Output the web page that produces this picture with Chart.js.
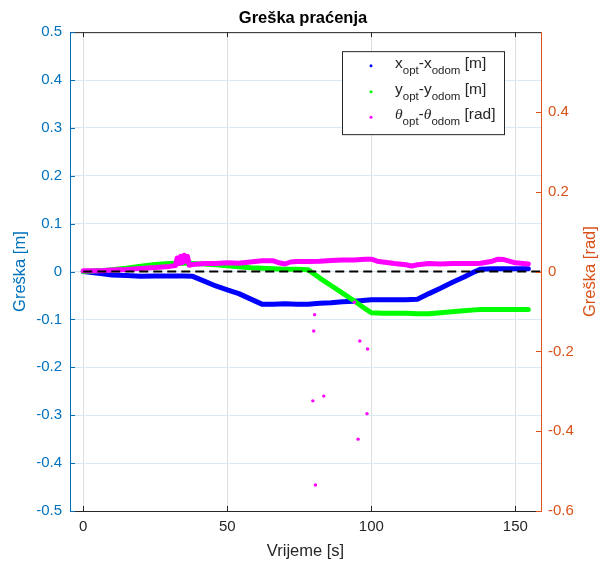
<!DOCTYPE html>
<html>
<head>
<meta charset="utf-8">
<script src="https://cdn.jsdelivr.net/npm/chart.js@4.4.1/dist/chart.umd.min.js"></script>
<style>
  html, body { margin: 0; padding: 0; background: #fff; }
</style>
</head>
<body>
<canvas id="errChart" width="606" height="565"></canvas>
<script>
const chartTitle = 'Greška praćenja';
const xLabel = 'Vrijeme [s]';
const yLabelLeft = 'Greška [m]';
const yLabelRight = 'Greška [rad]';

// time axis for the x / y position errors [s]
const timeXY = [0, 3, 6, 10, 15, 20, 25, 30, 35, 38, 42, 46, 50, 54, 58, 62, 66, 70, 74, 78,
    82, 86, 90, 94, 98, 100, 104, 108, 112, 116, 120, 124, 128, 132, 136, 138, 142, 146, 150, 154.5];
// x_opt - x_odom [m]
const xErr = [0.000, -0.002, -0.004, -0.007, -0.008, -0.010, -0.009, -0.009, -0.009, -0.010,
    -0.020, -0.030, -0.038, -0.046, -0.057, -0.068, -0.068, -0.067, -0.068, -0.068,
    -0.066, -0.065, -0.063, -0.062, -0.060, -0.059, -0.059, -0.059, -0.059, -0.058,
    -0.046, -0.035, -0.023, -0.012, 0.000, 0.005, 0.006, 0.006, 0.006, 0.006];
// y_opt - y_odom [m]
const yErr = [0.000, 0.001, 0.002, 0.004, 0.007, 0.011, 0.015, 0.017, 0.018, 0.017,
    0.016, 0.014, 0.012, 0.010, 0.008, 0.007, 0.006, 0.005, 0.005, 0.004,
    -0.013, -0.029, -0.045, -0.061, -0.078, -0.086, -0.087, -0.087, -0.087, -0.088,
    -0.088, -0.086, -0.084, -0.082, -0.080, -0.079, -0.079, -0.079, -0.079, -0.079];

// theta_opt - theta_odom [rad]
const timeTheta = [0, 3, 6, 10, 15, 20, 25, 30, 32, 32.6, 33.2, 33.8, 34.4, 35, 35.6, 36.2, 36.8, 38,
    42, 46, 50, 54, 58, 62, 66, 68, 70, 72, 74, 78, 82, 86, 90, 94, 98, 100, 102, 104, 108,
    112, 114, 116, 120, 124, 128, 132, 136, 138, 142, 144, 146, 150, 154.5];
const thetaErr = [0.002, 0.002, 0.002, 0.004, 0.005, 0.008, 0.010, 0.013, 0.015, 0.034, 0.020, 0.038,
    0.022, 0.041, 0.026, 0.038, 0.016, 0.018,
    0.020, 0.020, 0.022, 0.021, 0.024, 0.027, 0.027, 0.022, 0.019, 0.024, 0.025, 0.025, 0.026,
    0.028, 0.029, 0.029, 0.031, 0.031, 0.026, 0.024, 0.020,
    0.017, 0.014, 0.017, 0.020, 0.019, 0.020, 0.020, 0.020, 0.021, 0.026, 0.031, 0.030, 0.022, 0.019];

// isolated theta samples far from the main band
const outlierTime = [80.3, 80.0, 96.0, 98.7, 83.5, 79.7, 98.5, 95.4, 80.6, 94.1, 94.6];
const outlierTheta = [-0.108, -0.149, -0.174, -0.194, -0.312, -0.324, -0.356, -0.420, -0.535, -0.077, -0.605];

const xTicks = [0, 50, 100, 150];
const yTicksLeft = [-0.5, -0.4, -0.3, -0.2, -0.1, 0, 0.1, 0.2, 0.3, 0.4, 0.5];
const yTicksRight = [-0.6, -0.4, -0.2, 0, 0.2, 0.4];

const BLUE_AX = '#0072bd';
const ORANGE_AX = '#d95319';
const DARK = '#262626';

Chart.defaults.font.family = "'Liberation Sans', Arial, Helvetica, sans-serif";

const toPoints = (ts, vs) => ts.map((t, i) => ({ x: t, y: vs[i] }));
const fmt = (v) => String(Number(v.toFixed(2)));

const legendItems = [
    { color: '#0000ff', parts: [['x', 'n'], ['opt', 's'], ['-x', 'n'], ['odom', 's'], [' [m]', 'n']] },
    { color: '#00ff00', parts: [['y', 'n'], ['opt', 's'], ['-y', 'n'], ['odom', 's'], [' [m]', 'n']] },
    { color: '#ff00ff', parts: [['θ', 'g'], ['opt', 's'], ['-', 'n'], ['θ', 'g'], ['odom', 's'], [' [rad]', 'n']] },
];

const matlabDecor = {
    id: 'matlabDecor',
    afterDraw(chart) {
        const ctx = chart.ctx;
        const a = chart.chartArea;
        const sx = chart.scales.x;
        const yl = chart.scales.y;
        const yr = chart.scales.yR;
        ctx.save();

        // top border of the box
        ctx.strokeStyle = DARK;
        ctx.lineWidth = 1;
        ctx.beginPath();
        ctx.moveTo(a.left, a.top + 0.5);
        ctx.lineTo(a.right, a.top + 0.5);
        ctx.stroke();

        // inward tick marks
        const tl = 5;
        ctx.beginPath();
        sx.ticks.forEach((t) => {
            const px = Math.round(sx.getPixelForValue(t.value)) + 0.5;
            ctx.moveTo(px, a.bottom);
            ctx.lineTo(px, a.bottom - tl);
            ctx.moveTo(px, a.top);
            ctx.lineTo(px, a.top + tl);
        });
        ctx.stroke();
        ctx.strokeStyle = BLUE_AX;
        ctx.beginPath();
        yl.ticks.forEach((t) => {
            const py = Math.round(yl.getPixelForValue(t.value)) + 0.5;
            ctx.moveTo(a.left, py);
            ctx.lineTo(a.left + tl, py);
        });
        ctx.stroke();
        ctx.strokeStyle = ORANGE_AX;
        ctx.beginPath();
        yr.ticks.forEach((t) => {
            const py = Math.round(yr.getPixelForValue(t.value)) + 0.5;
            ctx.moveTo(a.right, py);
            ctx.lineTo(a.right - tl, py);
        });
        ctx.stroke();

        // right axis title, reading bottom to top like the left one
        ctx.fillStyle = ORANGE_AX;
        ctx.font = "16.5px 'Liberation Sans', Arial, sans-serif";
        ctx.textAlign = 'center';
        ctx.textBaseline = 'middle';
        ctx.translate(590, (a.top + a.bottom) / 2);
        ctx.rotate(-Math.PI / 2);
        ctx.fillText(yLabelRight, 0, 0);
        ctx.setTransform(1, 0, 0, 1, 0, 0);

        // legend box
        const bx = a.right - 199, by = a.top + 19, bw = 162, bh = 83;
        ctx.fillStyle = '#fff';
        ctx.fillRect(bx, by, bw, bh);
        ctx.strokeStyle = DARK;
        ctx.strokeRect(bx + 0.5, by + 0.5, bw, bh);
        const fonts = {
            n: "15.5px 'Liberation Sans', Arial, sans-serif",
            s: "11.5px 'Liberation Sans', Arial, sans-serif",
            g: "italic 15.5px 'Liberation Serif', 'Times New Roman', serif",
        };
        const rowBase = [by + 16.5, by + 42.5, by + 68];
        ctx.textAlign = 'left';
        ctx.textBaseline = 'alphabetic';
        legendItems.forEach((item, i) => {
            const base = rowBase[i];
            ctx.fillStyle = item.color;
            ctx.beginPath();
            ctx.arc(bx + 29, base - 2, 1.5, 0, Math.PI * 2);
            ctx.fill();
            ctx.fillStyle = DARK;
            let cx = bx + 53;
            item.parts.forEach(([txt, kind]) => {
                ctx.font = fonts[kind];
                ctx.fillText(txt, cx, kind === 's' ? base + 6 : base);
                cx += ctx.measureText(txt).width;
            });
        });
        ctx.restore();
    },
};

new Chart(document.getElementById('errChart'), {
    type: 'scatter',
    data: {
        datasets: [
            {
                label: 'zero',
                data: [{ x: 0, y: 0 }, { x: 160, y: 0 }],
                yAxisID: 'y',
                showLine: true,
                borderColor: '#000',
                borderWidth: 2,
                borderDash: [9, 5],
                pointRadius: 0,
                order: 0,
            },
            {
                label: 'theta outliers',
                data: toPoints(outlierTime, outlierTheta),
                yAxisID: 'yR',
                showLine: false,
                backgroundColor: '#ff00ff',
                borderWidth: 0,
                pointRadius: 1.7,
                order: 1,
            },
            {
                label: 'theta',
                data: toPoints(timeTheta, thetaErr),
                yAxisID: 'yR',
                showLine: true,
                borderColor: '#ff00ff',
                borderWidth: 5,
                borderJoinStyle: 'round',
                borderCapStyle: 'round',
                pointRadius: 0,
                order: 2,
            },
            {
                label: 'y',
                data: toPoints(timeXY, yErr),
                yAxisID: 'y',
                showLine: true,
                borderColor: '#00ff00',
                borderWidth: 5,
                borderJoinStyle: 'round',
                borderCapStyle: 'round',
                pointRadius: 0,
                order: 3,
            },
            {
                label: 'x',
                data: toPoints(timeXY, xErr),
                yAxisID: 'y',
                showLine: true,
                borderColor: '#0000ff',
                borderWidth: 5,
                borderJoinStyle: 'round',
                borderCapStyle: 'round',
                pointRadius: 0,
                order: 4,
            },
        ],
    },
    options: {
        responsive: false,
        animation: false,
        layout: { padding: 0 },
        plugins: {
            legend: { display: false },
            tooltip: { enabled: false },
            title: {
                display: true,
                text: chartTitle,
                color: '#000',
                font: { size: 16.5, weight: 'bold', lineHeight: 1.1 },
                padding: { top: 9, bottom: 5 },
            },
        },
        scales: {
            x: {
                type: 'linear',
                min: -4.6,
                max: 158.9,
                afterBuildTicks: (s) => { s.ticks = xTicks.map((v) => ({ value: v })); },
                afterFit: (s) => { s.height = 54; },
                ticks: { color: DARK, font: { size: 15 }, padding: 7, autoSkip: false, maxRotation: 0 },
                grid: { color: '#dedede', drawTicks: false },
                border: { color: DARK, width: 1 },
                title: { display: true, text: xLabel, color: DARK, font: { size: 16.5 }, padding: { top: 0, bottom: 4 } },
            },
            y: {
                position: 'left',
                min: -0.5,
                max: 0.5,
                afterBuildTicks: (s) => { s.ticks = yTicksLeft.map((v) => ({ value: v })); },
                afterFit: (s) => { s.width = 70; },
                ticks: { color: BLUE_AX, font: { size: 15 }, padding: 8, autoSkip: false, callback: (v) => fmt(v) },
                grid: { color: '#d9eaf5', drawTicks: false },
                border: { color: BLUE_AX, width: 1 },
                title: { display: true, text: yLabelLeft, color: BLUE_AX, font: { size: 16.5 }, padding: { top: 11, bottom: 0 } },
            },
            yR: {
                position: 'right',
                min: -0.6,
                max: 0.6,
                afterBuildTicks: (s) => { s.ticks = yTicksRight.map((v) => ({ value: v })); },
                afterFit: (s) => { s.width = 65; },
                ticks: { color: ORANGE_AX, font: { size: 15 }, padding: 7, autoSkip: false, callback: (v) => fmt(v) },
                grid: { display: false, drawTicks: false },
                border: { color: ORANGE_AX, width: 1 },
            },
        },
    },
    plugins: [matlabDecor],
});
</script>
</body>
</html>
